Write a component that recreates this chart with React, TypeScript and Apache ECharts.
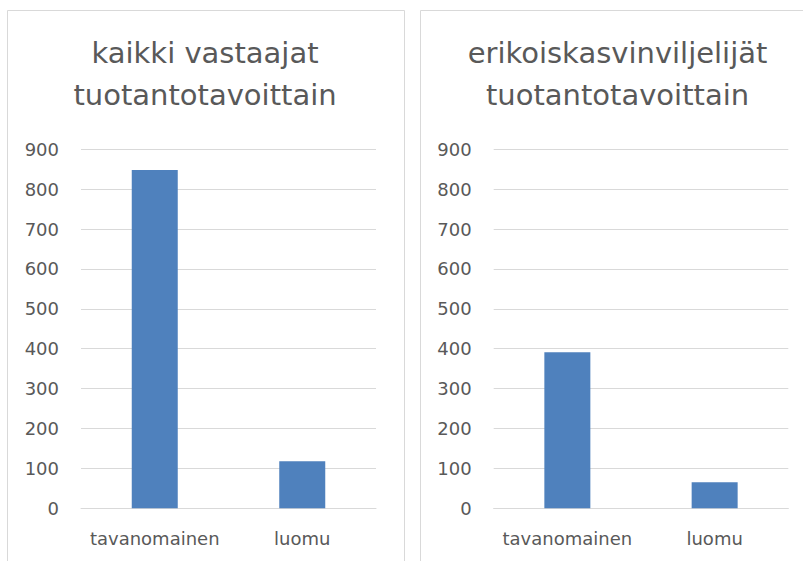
import React, { useEffect, useRef } from "react";
import * as echarts from "echarts";

const categories = ["tavanomainen", "luomu"];
const allRespondents = [848, 118];
const specialtyGrowers = [391, 65];
const titles = [
  "kaikki vastaajat\ntuotantotavoittain",
  "erikoiskasvinviljelijät\ntuotantotavoittain",
];
const yMin = 0;
const yMax = 900;
const yInterval = 100;

const TEXT = "#595959";
const GRID = "#d9d9d9";
const BAR = "#4f81bd";
const FONT = "'DejaVu Sans', Verdana, sans-serif";

export default function App() {
  const ref = useRef<HTMLDivElement>(null);
  useEffect(() => {
    if (!ref.current) return;
    const chart = echarts.init(ref.current, null, { renderer: "svg" });
    const grids = [
      { left: 81, right: 427, top: 149.3, bottom: 52.7 },
      { left: 493.7, right: 14.7, top: 149.3, bottom: 52.7 },
    ];
    const xAxis = grids.map((_, i) => ({
      type: "category" as const,
      gridIndex: i,
      data: categories,
      axisLine: { show: true, lineStyle: { color: GRID, width: 1 } },
      axisTick: { show: false },
      axisLabel: {
        color: TEXT,
        fontSize: 18,
        fontFamily: FONT,
        margin: 21,
        interval: 0,
        hideOverlap: false,
      },
    }));
    const yAxis = grids.map((_, i) => ({
      type: "value" as const,
      gridIndex: i,
      min: yMin,
      max: yMax,
      interval: yInterval,
      axisLine: { show: false },
      axisTick: { show: false },
      splitLine: { lineStyle: { color: GRID, width: 1 } },
      axisLabel: { color: TEXT, fontSize: 18, fontFamily: FONT, margin: 22 },
    }));
    const datasets = [allRespondents, specialtyGrowers];
    const series = datasets.map((d, i) => ({
      type: "bar" as const,
      xAxisIndex: i,
      yAxisIndex: i,
      data: d,
      barWidth: 46,
      itemStyle: { color: BAR },
    }));
    const titleText = (text: string, x: number) => ({
      type: "text" as const,
      x,
      y: 32,
      style: {
        text,
        fill: TEXT,
        fontSize: 29,
        fontFamily: FONT,
        lineHeight: 42,
        textAlign: "center",
        textVerticalAlign: "top",
      },
    });
    chart.setOption({
      animation: false,
      backgroundColor: "#ffffff",
      grid: grids,
      xAxis,
      yAxis,
      series,
      graphic: [
        {
          type: "rect",
          shape: { x: 7.5, y: 10.5, width: 397, height: 600 },
          style: { fill: "none", stroke: GRID, lineWidth: 1 },
          silent: true,
        },
        {
          type: "rect",
          shape: { x: 420.5, y: 10.5, width: 500, height: 600 },
          style: { fill: "none", stroke: GRID, lineWidth: 1 },
          silent: true,
        },
        titleText(titles[0], 205),
        titleText(titles[1], 617.5),
      ],
    });
    return () => chart.dispose();
  }, []);
  return (
    <div
      ref={ref}
      style={{ position: "absolute", left: 0, top: 0, width: 803, height: 561 }}
    />
  );
}
